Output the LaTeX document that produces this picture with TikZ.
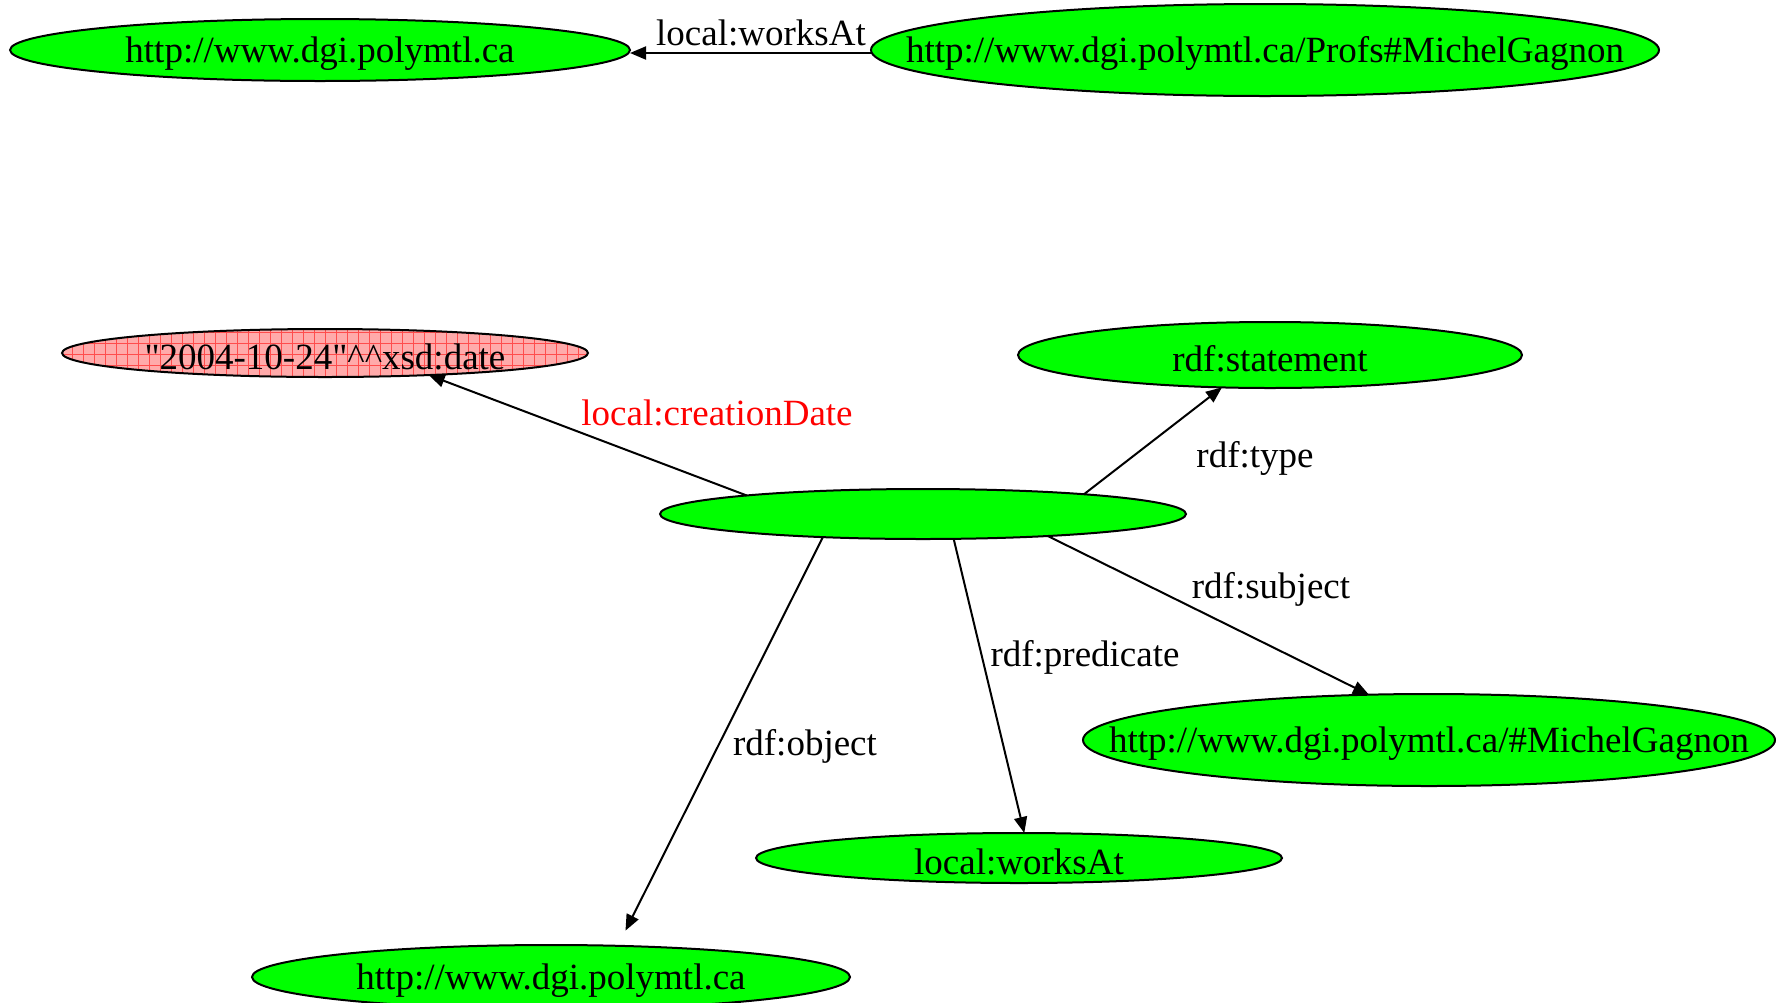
\documentclass[tikz,border=0pt]{standalone}
\usepackage{fontspec}
\setmainfont{Liberation Serif}
\usetikzlibrary{arrows.meta,shapes.geometric}
\definecolor{nodegreen}{RGB}{0,255,0}
\definecolor{litpink}{RGB}{255,170,170}
\tikzset{
  rnode/.style={ellipse, draw=black, line width=1pt, fill=nodegreen, inner sep=0pt, outer sep=0pt},
  litnode/.style={ellipse, draw=black, line width=1pt, fill=litpink, inner sep=0pt, outer sep=0pt,
    path picture={\draw[red!70, line width=0.3pt, step=5.5pt] (path picture bounding box.south west) grid (path picture bounding box.north east);}},
  edge/.style={draw=black, line width=1pt, -{Triangle[length=8pt,width=6.5pt]}},
  elabel/.style={inner sep=0pt, anchor=center}
}
\newcommand{\ntext}[1]{\makebox[0pt]{\raisebox{-1.8pt}[\height][\depth]{#1}}}
\newcommand{\sq}{\XeTeXglyph\XeTeXcharglyph"22\relax}
\begin{document}
\begin{tikzpicture}[x=0.5pt, y=-0.5pt, font=\fontsize{18.5}{22}\selectfont]
\useasboundingbox (0,0) rectangle (1778,1002);
% nodes
\node[rnode, minimum width=310pt, minimum height=31pt] (uni1) at (320,50) {\ntext{http://www.dgi.polymtl.ca}};
\node[rnode, minimum width=394pt, minimum height=46pt] (prof) at (1265,50) {\ntext{http://www.dgi.polymtl.ca/Profs\#MichelGagnon}};
\node[litnode, minimum width=263pt, minimum height=24pt] (date) at (325,353) {\ntext{\sq 2004-10-24\sq\^{}\^{}xsd:date}};
\node[rnode, minimum width=252pt, minimum height=33pt] (stmt) at (1270,355) {\ntext{rdf:statement}};
\node[rnode, minimum width=263pt, minimum height=25pt] (blank) at (923,514) {};
\node[rnode, minimum width=346pt, minimum height=46pt] (subj) at (1429,740) {\ntext{http://www.dgi.polymtl.ca/\#MichelGagnon}};
\node[rnode, minimum width=263pt, minimum height=25pt] (pred) at (1019,858) {\ntext{local:worksAt}};
\node[rnode, minimum width=299pt, minimum height=32pt] (obj) at (551,977) {\ntext{http://www.dgi.polymtl.ca}};
% edges
\draw[edge] ([yshift=-1.5pt]prof.west) -- ([yshift=-1.5pt]uni1.east);
\node[elabel] (lworks) at (761,33) {local:worksAt};
\draw[edge] (blank.174) -- (date.348.3);
\node[elabel, text=red] (lcdate) at (717,413) {local:creationDate};
\draw[edge] (blank.7.0) -- (stmt.214.8);
\node[elabel] (ltype) at (1255,458) {rdf:type};
\draw[edge] (blank.350.9) -- (subj.143.6);
\node[elabel] (lsubj) at (1271,589) {rdf:subject};
\draw[edge] (blank.321.3) -- (pred.78);
\node[elabel] (lpred) at (1085,657) {rdf:predicate};
\draw[edge, shorten >=8.5pt] (blank.193.6) -- (obj.25);
\node[elabel] (lobj) at (805,746) {rdf:object};
\end{tikzpicture}
\end{document}
